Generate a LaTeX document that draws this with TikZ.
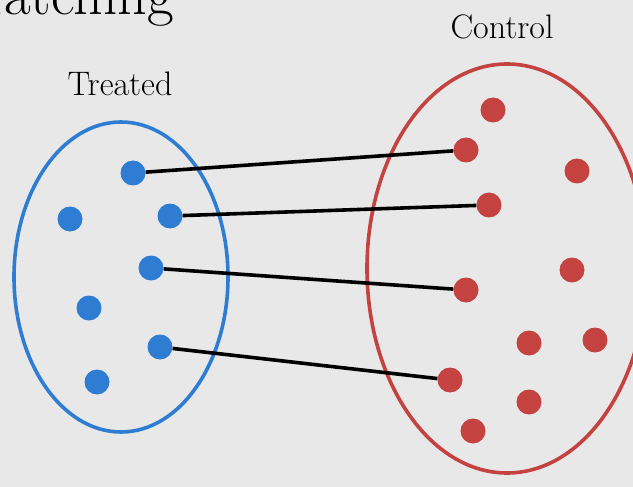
\documentclass[tikz,border=0pt]{standalone}
\usepackage{tikz}
\definecolor{bg}{HTML}{E8E8E8}
\definecolor{tblue}{HTML}{2E7DD2}
\definecolor{cred}{HTML}{C44240}
\begin{document}
\begin{tikzpicture}[x=1pt,y=-1pt,
  tdot/.style={circle,fill=tblue,minimum size=25pt,inner sep=0pt},
  cdot/.style={circle,fill=cred,minimum size=25pt,inner sep=0pt},
  match/.style={line width=3.6pt,black},
  lbl/.style={font=\fontsize{34}{40}\selectfont,inner sep=0pt}]
\useasboundingbox (0,0) rectangle (633,487);
\clip (0,0) rectangle (633,487);
\fill[bg] (0,0) rectangle (633,487);
\node[anchor=base east,inner sep=0pt,font=\fontsize{58}{62}\selectfont] (title) at (174,15) {Matching};
\node[lbl,anchor=base] (treated) at (120,96) {Treated};
\node[lbl,anchor=base] (control) at (502,39) {Control};
\draw[tblue,line width=3.6pt] (121,277) ellipse [x radius=107,y radius=155];
\draw[cred,line width=3.6pt] (507,268.5) ellipse [x radius=140,y radius=204.5];
% treated
\node[tdot] (t1) at (133,173) {};
\node[tdot] (t2) at (70,219) {};
\node[tdot] (t3) at (170,216) {};
\node[tdot] (t4) at (151,268) {};
\node[tdot] (t5) at (89,308) {};
\node[tdot] (t6) at (160,347) {};
\node[tdot] (t7) at (97,382) {};
% control
\node[cdot] (c1) at (493,110) {};
\node[cdot] (c2) at (466,150) {};
\node[cdot] (c3) at (577,171) {};
\node[cdot] (c4) at (489,205) {};
\node[cdot] (c5) at (572,270) {};
\node[cdot] (c6) at (466,290) {};
\node[cdot] (c7) at (529,343) {};
\node[cdot] (c8) at (595,340) {};
\node[cdot] (c9) at (450,380) {};
\node[cdot] (c10) at (529,402) {};
\node[cdot] (c11) at (473,431) {};
\draw[match] (t1) -- (c2);
\draw[match] (t3) -- (c4);
\draw[match] (t4) -- (c6);
\draw[match] (t6) -- (c9);
\end{tikzpicture}
\end{document}
